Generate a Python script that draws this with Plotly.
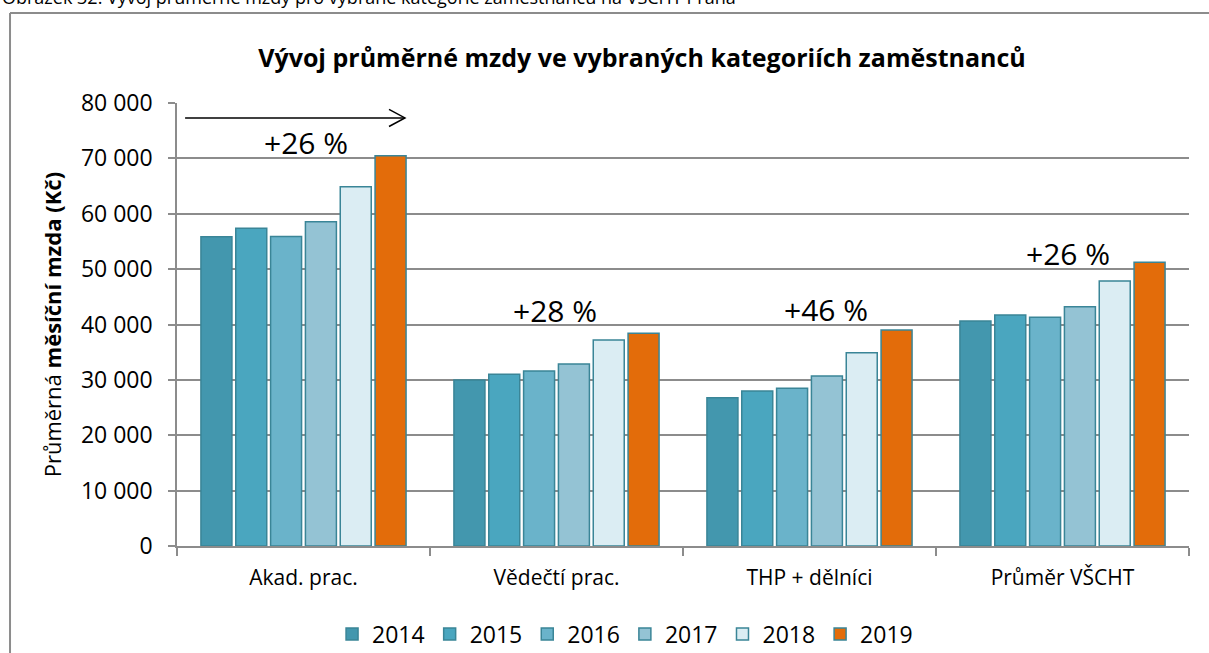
"""
Average monthly wage by employee category, VSCHT Praha 2014-2019.
"""
import plotly.graph_objects as go

# ── Data ──────────────────────────────────────────────────────────────────────
CATEGORIES = ["Akad. prac.", "Vědečtí prac.", "THP + dělníci", "Průměr VŠCHT"]
YEARS = ["2014", "2015", "2016", "2017", "2018", "2019"]

WAGE_2014 = [55860, 30000, 26790, 40630]
WAGE_2015 = [57370, 31000, 27990, 41720]
WAGE_2016 = [55900, 31600, 28470, 41300]
WAGE_2017 = [58570, 32870, 30700, 43220]
WAGE_2018 = [64890, 37200, 34910, 47860]
WAGE_2019 = [70490, 38400, 39010, 51230]

GROWTH_LABELS = ["+26 %", "+28 %", "+46 %", "+26 %"]
GROWTH_Y = [72800, 42450, 42800, 52900]

Y_TICKS = [0, 10000, 20000, 30000, 40000, 50000, 60000, 70000, 80000]

# ── Colors ────────────────────────────────────────────────────────────────────
YEAR_COLORS = ["#4397AE", "#4AA6BF", "#6AB3CA", "#94C3D4", "#DBEDF3", "#E36C0A"]
C_OUTLINE = "#3A8597"
C_GRID = "#8C8C8C"
C_TEXT = "#000000"
FONT = "Open Sans, Noto Sans, sans-serif"

series = [WAGE_2014, WAGE_2015, WAGE_2016, WAGE_2017, WAGE_2018, WAGE_2019]

fig = go.Figure()
for year, values, color in zip(YEARS, series, YEAR_COLORS):
    fig.add_trace(go.Bar(
        x=CATEGORIES, y=values, name=year,
        marker=dict(color=color, line=dict(color=C_OUTLINE, width=1.5)),
        hovertemplate="%{x} " + year + ": %{y:,} Kč<extra></extra>",
    ))

# growth labels above each group
annotations = []
x_shifts = [2, -2, 16, 5]
for cat, label, y, dx in zip(CATEGORIES, GROWTH_LABELS, GROWTH_Y, x_shifts):
    annotations.append(dict(
        x=cat, y=y, xref="x", yref="y", text=label, showarrow=False,
        xshift=dx, font=dict(size=30, color=C_TEXT),
    ))

# y-axis title (partly bold, as in the source)
annotations.append(dict(
    text="Průměrná <b>měsíční mzda (Kč)</b>",
    xref="paper", yref="paper", x=-0.1405, y=0.5,
    textangle=-90, showarrow=False, font=dict(size=22, color=C_TEXT),
))

# cut-off figure caption at the very top of the page
annotations.append(dict(
    text="Obrázek 32: Vývoj průměrné mzdy pro vybrané kategorie zaměstnanců na VŠCHT Praha",
    xref="paper", yref="paper", x=-0.1749, y=1.2077,
    xanchor="left", yanchor="bottom", showarrow=False,
    font=dict(size=18, color=C_TEXT),
))

shapes = [
    # chart frame (left and top edges only visible)
    dict(type="line", xref="paper", yref="paper", x0=-0.165, x1=-0.165, y0=1.2032, y1=-0.25,
         line=dict(color=C_GRID, width=2)),
    dict(type="line", xref="paper", yref="paper", x0=-0.165, x1=1.03, y0=1.2032, y1=1.2032,
         line=dict(color=C_GRID, width=2)),
    # arrow over the first group
    dict(type="line", xref="x", yref="y", x0=-0.468, x1=0.401, y0=77300, y1=77300,
         line=dict(color="#000000", width=1.5)),
    dict(type="path", xref="x", yref="y",
         path="M 0.338,78850 L 0.401,77300 L 0.338,75750",
         line=dict(color="#000000", width=1.5)),
]

fig.update_layout(
    width=1209, height=653,
    paper_bgcolor="#FFFFFF", plot_bgcolor="#FFFFFF",
    font=dict(family=FONT, size=21, color=C_TEXT),
    separators=", ",
    margin=dict(l=177, r=20, t=103, b=107, autoexpand=False),
    title=dict(
        text="<b>Vývoj průměrné mzdy ve vybraných kategoriích zaměstnanců</b>",
        xref="container", yref="container", x=0.531, y=0.911,
        xanchor="center", yanchor="middle",
        font=dict(size=25, color=C_TEXT),
    ),
    barmode="group", bargap=0.174, bargroupgap=0.11,
    legend=dict(
        orientation="h", xref="container", yref="container",
        xanchor="center", x=0.517, yanchor="middle", y=0.029,
        font=dict(size=23), itemwidth=30, traceorder="normal",
    ),
    xaxis=dict(
        type="category", tickson="boundaries", ticks="outside", ticklen=8,
        tickcolor=C_GRID, tickwidth=1.5, showline=True, linecolor=C_GRID, linewidth=1.5,
        showgrid=False, zeroline=False, ticklabelstandoff=12,
    ),
    yaxis=dict(
        range=[0, 80000], tickvals=Y_TICKS, tickformat=",d",
        tickfont=dict(size=23),
        ticks="outside", ticklen=7, tickcolor=C_GRID, tickwidth=1.5,
        showline=True, linecolor=C_GRID, linewidth=1.5,
        showgrid=True, gridcolor=C_GRID, gridwidth=1.5, zeroline=False,
        ticklabelstandoff=11,
    ),
    annotations=annotations,
    shapes=shapes,
    showlegend=True,
)

fig.write_html("out.html", config=dict(displayModeBar=False),
               post_script="document.body.style.margin='0';")
